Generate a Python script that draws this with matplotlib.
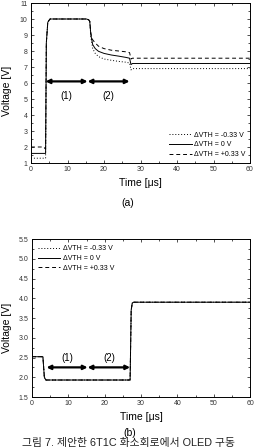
import matplotlib
matplotlib.use("Agg")
import matplotlib.pyplot as plt
from matplotlib.ticker import MultipleLocator

plt.rcParams['font.family'] = ['Liberation Sans', 'Noto Sans CJK KR', 'DejaVu Sans']

# ---- panel (a) data ----
a_t_solid = [0, 4.0, 4.2, 4.6, 5.2, 15.2, 15.8, 16.1, 16.4, 16.9, 17.6, 18.5, 20, 22, 24, 26, 27, 27.4, 27.8, 60]
a_v_solid = [1.6, 1.6, 8.5, 9.8, 10.0, 10.0, 9.95, 9.85, 9.0, 8.4, 8.15, 7.98, 7.85, 7.75, 7.68, 7.6, 7.55, 7.15, 7.22, 7.22]
a_t_dash = [0, 3.6, 3.8, 4.0, 4.2, 4.6, 5.2, 15.2, 15.8, 16.1, 16.4, 16.9, 17.6, 18.5, 20, 22, 24, 26, 27, 27.4, 27.8, 60]
a_v_dash = [2.0, 2.0, 1.9, 1.9, 8.5, 9.8, 10.0, 10.0, 9.95, 9.85, 9.1, 8.7, 8.5, 8.3, 8.15, 8.05, 8.0, 7.95, 7.9, 7.5, 7.55, 7.55]
a_t_dot = [0, 3.6, 4.0, 4.2, 4.6, 5.2, 15.2, 15.8, 16.1, 16.4, 16.9, 17.6, 18.5, 20, 22, 24, 26, 27, 27.4, 27.8, 60]
a_v_dot = [1.3, 1.3, 1.3, 8.5, 9.8, 10.0, 10.0, 9.95, 9.85, 8.9, 8.15, 7.85, 7.65, 7.5, 7.42, 7.35, 7.3, 7.25, 6.82, 6.9, 6.9]

# ---- panel (b) data ----
b_t = [0, 3.0, 3.4, 3.8, 27.0, 27.3, 27.6, 28.0, 60]
b_v = [2.52, 2.52, 2.0, 1.93, 1.93, 3.7, 3.88, 3.9, 3.9]

labels = ['\u0394VTH = -0.33 V', '\u0394VTH = 0 V', '\u0394VTH = +0.33 V']
phase_labels = ['(1)', '(2)']
a_phase_bounds = [4.0, 15.5, 27.0]
b_phase_bounds = [4.0, 15.3, 27.0]

fig = plt.figure(figsize=(2.61, 4.48), dpi=100)
W, H = 261, 448

def ax_at(l, t, r, b):
    return fig.add_axes([l / W, 1 - b / H, (r - l) / W, (b - t) / H])

def style(ax):
    ax.tick_params(axis='both', which='both', direction='in', top=True, right=True,
                   labelsize=5, width=0.6, colors='#333333', pad=2.5)
    ax.tick_params(which='major', length=2.5)
    ax.tick_params(which='minor', length=1.5)
    for s in ax.spines.values():
        s.set_linewidth(0.7)

# ---- (a) ----
ax1 = ax_at(31, 3, 250, 163)
ax1.plot(a_t_dot, a_v_dot, color='k', lw=0.7, ls=(0, (1, 2)), label=labels[0])
ax1.plot(a_t_solid, a_v_solid, color='k', lw=0.7, ls='-', label=labels[1])
ax1.plot(a_t_dash, a_v_dash, color='k', lw=0.7, ls=(0, (4, 3)), label=labels[2])
ax1.set_xlim(0, 60)
ax1.set_ylim(1, 11)
ax1.xaxis.set_major_locator(MultipleLocator(10))
ax1.xaxis.set_minor_locator(MultipleLocator(5))
ax1.yaxis.set_major_locator(MultipleLocator(1))
ax1.yaxis.set_minor_locator(MultipleLocator(0.5))
style(ax1)
ax1.set_xlabel('Time [\u03bcs]', fontsize=7.5, labelpad=3)
ax1.set_ylabel('Voltage [V]', fontsize=7.5)
ax1.yaxis.set_label_coords(-19 / 219, 0.45)
for i in range(2):
    ax1.annotate('', xy=(a_phase_bounds[i + 1], 6.1), xytext=(a_phase_bounds[i], 6.1),
                 arrowprops=dict(arrowstyle='<|-|>', color='k', lw=1.6,
                                 mutation_scale=6, shrinkA=0, shrinkB=0))
    ax1.text((a_phase_bounds[i] + a_phase_bounds[i + 1]) / 2, 5.2, phase_labels[i],
             ha='center', va='center', fontsize=7)
ax1.legend(loc='lower right', fontsize=5, frameon=False, handlelength=3.2,
           handletextpad=0.3, labelspacing=0.4, borderaxespad=0.3)
fig.text(128 / W, 1 - 203 / H, '(a)', ha='center', va='center', fontsize=7.5)

# ---- (b) ----
ax2 = ax_at(32, 239, 250, 397)
ax2.plot(b_t, b_v, color='k', lw=0.7, ls=(0, (1, 2)), label=labels[0])
ax2.plot(b_t, b_v, color='k', lw=0.7, ls='-', label=labels[1])
ax2.plot(b_t, b_v, color='k', lw=0.7, ls=(0, (4, 3)), label=labels[2])
ax2.set_xlim(0, 60)
ax2.set_ylim(1.5, 5.5)
ax2.xaxis.set_major_locator(MultipleLocator(10))
ax2.xaxis.set_minor_locator(MultipleLocator(5))
ax2.yaxis.set_major_locator(MultipleLocator(0.5))
ax2.yaxis.set_minor_locator(MultipleLocator(0.25))
ax2.yaxis.set_major_formatter(matplotlib.ticker.FormatStrFormatter('%.1f'))
style(ax2)
ax2.set_xlabel('Time [\u03bcs]', fontsize=7.5, labelpad=3)
ax2.set_ylabel('Voltage [V]', fontsize=7.5)
ax2.yaxis.set_label_coords(-20 / 218, 0.44)
for i in range(2):
    ax2.annotate('', xy=(b_phase_bounds[i + 1], 2.25), xytext=(b_phase_bounds[i], 2.25),
                 arrowprops=dict(arrowstyle='<|-|>', color='k', lw=1.6,
                                 mutation_scale=6, shrinkA=0, shrinkB=0))
    ax2.text((b_phase_bounds[i] + b_phase_bounds[i + 1]) / 2, 2.48, phase_labels[i],
             ha='center', va='center', fontsize=7)
ax2.legend(loc='upper left', fontsize=5, frameon=False, handlelength=3.2,
           handletextpad=0.3, labelspacing=0.4, borderaxespad=0.5)
fig.text(130 / W, 1 - 433 / H, '(b)', ha='center', va='center', fontsize=7.5)

fig.text(128 / W, 1 - 447.5 / H, '그림 7. 제안한 6T1C 화소회로에서 OLED 구동',
         ha='center', va='bottom', fontsize=7.8, color='#222222')

fig.savefig('out.png', dpi=100)
